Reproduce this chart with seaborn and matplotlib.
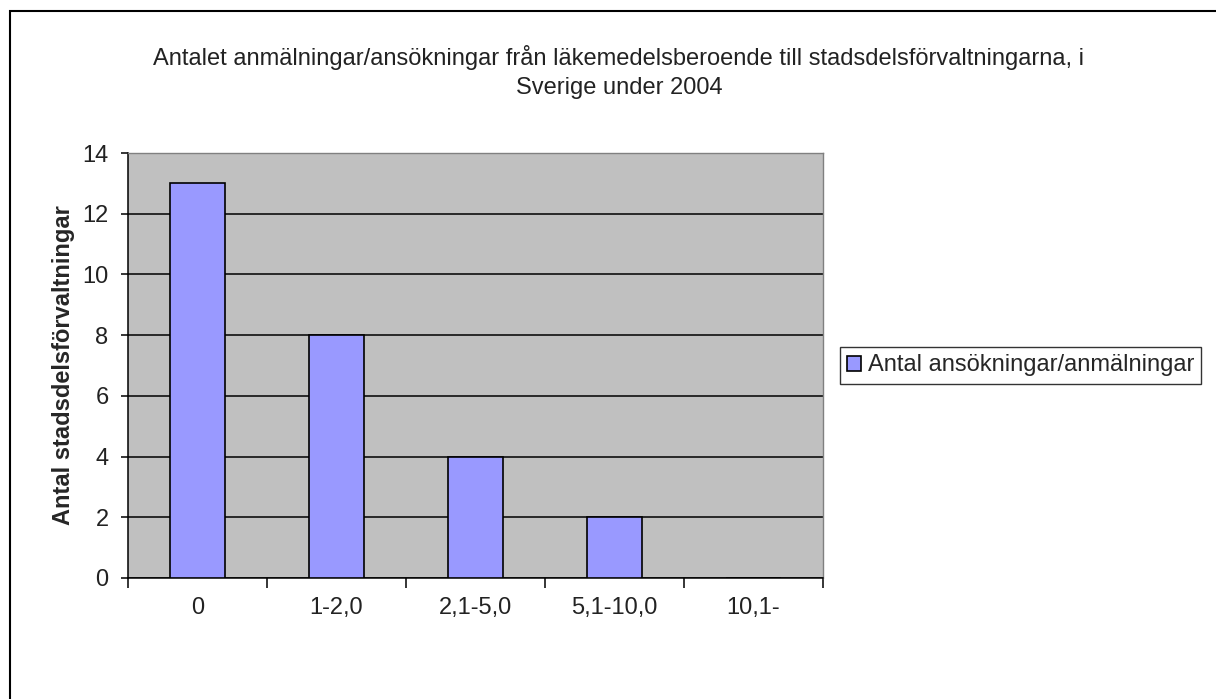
import matplotlib.pyplot as plt
import seaborn as sns
from matplotlib.patches import Rectangle
from matplotlib.ticker import MultipleLocator, FixedLocator

categories = ["0", "1-2,0", "2,1-5,0", "5,1-10,0", "10,1-"]
values = [13, 8, 4, 2, 0]
series_name = "Antal ansökningar/anmälningar"
title = ("Antalet anmälningar/ansökningar från läkemedelsberoende till stadsdelsförvaltningarna, i\n"
         "Sverige under 2004")
ylabel = "Antal stadsdelsförvaltningar"

sns.set_theme(style="white")
plt.rcParams["font.family"] = ["Liberation Sans", "DejaVu Sans"]

fig = plt.figure(figsize=(12.16, 6.99), dpi=100)
ax = fig.add_axes([128 / 1216, 121 / 699, 695 / 1216, 425 / 699])
ax.set_facecolor("#C0C0C0")

sns.barplot(x=categories, y=values, color="#9999FF", width=0.4,
            edgecolor="black", linewidth=1.2, saturation=1,
            label=series_name, ax=ax, zorder=3)

ax.set_ylim(0, 14)
ax.set_xlim(-0.5, len(categories) - 0.5)
ax.yaxis.set_major_locator(MultipleLocator(2))
ax.grid(axis="y", color="black", linewidth=1.1, zorder=1)
ax.set_axisbelow(True)

# x ticks: labels at centres, tick marks between categories
ax.tick_params(axis="x", which="major", length=0, pad=14, labelsize=17, colors="#222222")
ax.xaxis.set_minor_locator(FixedLocator([i - 0.5 for i in range(len(categories) + 1)]))
ax.tick_params(axis="x", which="minor", bottom=True, length=7, width=1.1, color="black")
ax.tick_params(axis="y", which="major", left=True, length=5, width=1.1, color="black",
               pad=9, labelsize=17, labelcolor="#222222")

for side in ["left", "bottom"]:
    ax.spines[side].set_color("black")
    ax.spines[side].set_linewidth(1.1)
for side in ["top", "right"]:
    ax.spines[side].set_color("#808080")
    ax.spines[side].set_linewidth(1.0)

ax.set_xlabel("")
ax.set_ylabel(ylabel, fontsize=17, fontweight="bold", labelpad=5)

fig.text(0.509, 0.897, title, ha="center", va="center", fontsize=17,
         color="#222222", linespacing=1.45)

leg = ax.legend(loc="center left", bbox_to_anchor=(1.024, 0.5), fontsize=17,
                frameon=True, fancybox=False, edgecolor="black",
                handlelength=0.6, handleheight=0.6, handletextpad=0.3,
                borderpad=0.3, borderaxespad=0)
leg.get_frame().set_linewidth(1.0)

# outer chart border (top and left visible, rest cut off)
fig.patches.append(Rectangle((10 / 1216, -0.1), 1.2, (699 - 11) / 699 + 0.1,
                             transform=fig.transFigure, fill=False,
                             edgecolor="black", linewidth=1.5))

fig.savefig("out.png", dpi=100)
